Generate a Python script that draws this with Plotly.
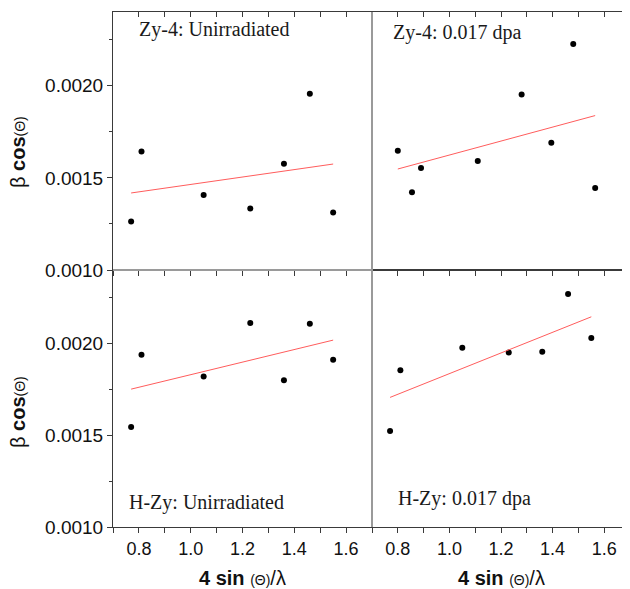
import plotly.graph_objects as go

# ---- data ----
x_std = [0.77, 0.81, 1.05, 1.23, 1.36, 1.46, 1.55]
x_zy4_irr = [0.80, 0.855, 0.89, 1.11, 1.28, 1.395, 1.48, 1.565]

zy4_unirr = [0.001263, 0.001643, 0.001407, 0.001334, 0.001577, 0.001957, 0.001312]
zy4_irr = [0.001647, 0.001422, 0.001553, 0.001591, 0.001953, 0.001690, 0.002227, 0.001445]
hzy_unirr = [0.001545, 0.001938, 0.001820, 0.002111, 0.001800, 0.002107, 0.001911]
hzy_irr = [0.001523, 0.001854, 0.001976, 0.001951, 0.001954, 0.002269, 0.002029]

fit_x_std = [0.77, 1.55]
fit_x_zy4_irr = [0.80, 1.565]
zy4_unirr_fit = [0.001418, 0.001575]
zy4_irr_fit = [0.001548, 0.001838]
hzy_unirr_fit = [0.001751, 0.002018]
hzy_irr_fit = [0.001706, 0.002145]

panel_labels = ["Zy-4: Unirradiated", "Zy-4: 0.017 dpa", "H-Zy: Unirradiated", "H-Zy: 0.017 dpa"]
x_tickvals = [0.8, 1.0, 1.2, 1.4, 1.6]
x_ticktext = ["0.8", "1.0", "1.2", "1.4", "1.6"]
y_tickvals = [0.0010, 0.0015, 0.0020]
y_ticktext = ["0.0010", "0.0015", "0.0020"]

# ---- layout geometry (page body has an 8px margin, so the figure is 8px smaller) ----
OFF = 8
W, H = 630 - OFF, 589 - OFF
ML, MR, MT, MB = 113 - OFF, 0, 12 - OFF, 589 - 527
PW, PH = W - ML - MR, H - MT - MB


def px(x):  # reference pixel -> paper
    return (x - OFF - ML) / PW


def py(y):
    return (H - MB - (y - OFF)) / PH


xsplit = px(372)
ysplit = py(270)
XR = [0.7, 1.7]
YR = [0.0010, 0.0024]
FRAME = "#3a3a3a"
DIV = "#9a9a9a"
XTICKFONT = dict(family="Liberation Sans, Arial, sans-serif", size=18, color="#111")
YTICKFONT = dict(family="Liberation Sans, Arial, sans-serif", size=19, color="#111")
LABFONT = dict(family="Liberation Serif, Times New Roman, serif", size=20, color="#1a1a1a")
RED = "#ff5c5c"

fig = go.Figure()

panels = [
    ("x", "y", x_std, zy4_unirr, fit_x_std, zy4_unirr_fit),
    ("x2", "y2", x_zy4_irr, zy4_irr, fit_x_zy4_irr, zy4_irr_fit),
    ("x3", "y3", x_std, hzy_unirr, fit_x_std, hzy_unirr_fit),
    ("x4", "y4", x_std, hzy_irr, fit_x_std, hzy_irr_fit),
]
for xa, ya, xs, ys, fx, fy in panels:
    fig.add_trace(go.Scatter(x=xs, y=ys, mode="markers", xaxis=xa, yaxis=ya,
                             marker=dict(color="black", size=6), showlegend=False))
    fig.add_trace(go.Scatter(x=fx, y=fy, mode="lines", xaxis=xa, yaxis=ya,
                             line=dict(color=RED, width=1), showlegend=False))

doms_x = {"x": [0, xsplit], "x2": [xsplit, 1], "x3": [0, xsplit], "x4": [xsplit, 1]}
doms_y = {"y": [ysplit, 1], "y2": [ysplit, 1], "y3": [0, ysplit], "y4": [0, ysplit]}

layout = dict(
    width=W, height=H,
    margin=dict(l=ML, r=MR, t=MT, b=MB, pad=0, autoexpand=False),
    plot_bgcolor="white", paper_bgcolor="white",
    showlegend=False,
)

for xa, ya in [("x", "y"), ("x2", "y2"), ("x3", "y3"), ("x4", "y4")]:
    xkey = "xaxis" + xa[1:]
    ykey = "yaxis" + ya[1:]
    bottom_row = xa in ("x3", "x4")
    left_col = xa in ("x", "x3")
    layout[xkey] = dict(
        domain=doms_x[xa], anchor=ya, range=XR, showgrid=False, zeroline=False,
        showline=True, linecolor=FRAME, linewidth=1,
        ticks="outside", ticklen=5, tickcolor=FRAME, tickwidth=1,
        tickvals=x_tickvals, ticktext=x_ticktext,
        showticklabels=bottom_row, tickfont=XTICKFONT, automargin=False,
        minor=dict(dtick=0.1, tick0=0.7, ticks="outside", ticklen=5, tickcolor=FRAME, showgrid=False),
    )
    layout[ykey] = dict(
        domain=doms_y[ya], anchor=xa, range=YR, showgrid=False, zeroline=False,
        showline=True, linecolor=FRAME, linewidth=1,
        ticks="outside" if left_col else "", ticklen=5, tickcolor=FRAME,
        tickvals=y_tickvals, ticktext=y_ticktext,
        showticklabels=left_col, tickfont=YTICKFONT, automargin=False,
        minor=dict(dtick=0.00025, tick0=0.001, ticks="outside" if left_col else "",
                   ticklen=3, tickcolor=FRAME, showgrid=False),
    )

# overlay axes: top-edge ticks (inside) for each panel, right-edge ticks for right panels
n = 5
for xa, ya in [("x", "y"), ("x2", "y2"), ("x3", "y3"), ("x4", "y4")]:
    layout["xaxis%d" % n] = dict(
        overlaying=xa, side="top", anchor=ya, range=XR, showgrid=False, zeroline=False,
        showline=True, linecolor=FRAME, linewidth=1,
        ticks="inside", ticklen=5, tickcolor=FRAME, dtick=0.1, tick0=0.7,
        showticklabels=False,
    )
    n += 1
for xa, ya in [("x2", "y2"), ("x4", "y4")]:
    layout["yaxis%d" % n] = dict(
        overlaying=ya, side="right", anchor=xa, range=YR, showgrid=False, zeroline=False,
        showline=False, ticks="inside", ticklen=5, tickcolor=FRAME,
        dtick=0.00025, tick0=0.001, showticklabels=False,
    )
    n += 1

fig.update_layout(**layout)
for k in range(5, 9):
    fig.add_trace(go.Scatter(x=[None], y=[None], xaxis="x%d" % k,
                             yaxis=["y", "y2", "y3", "y4"][k - 5], showlegend=False))
fig.add_trace(go.Scatter(x=[None], y=[None], xaxis="x2", yaxis="y9", showlegend=False))
fig.add_trace(go.Scatter(x=[None], y=[None], xaxis="x4", yaxis="y10", showlegend=False))

# divider lines
fig.add_shape(type="line", xref="paper", yref="paper", x0=xsplit, x1=xsplit, y0=0, y1=1,
              line=dict(color=DIV, width=2))
fig.add_shape(type="line", xref="paper", yref="paper", x0=0, x1=xsplit, y0=ysplit, y1=ysplit,
              line=dict(color=DIV, width=2))

# panel labels
label_pos = [(137, 29), (391, 33), (127, 502), (396, 498)]
for text, (lx, ly) in zip(panel_labels, label_pos):
    fig.add_annotation(x=px(lx), y=py(ly), xref="paper", yref="paper", text=text,
                       showarrow=False, xanchor="left", yanchor="middle", font=LABFONT)

# axis titles
ytitle = "β <b>cos</b><span style='font-size:14px'>(Θ)</span>"
xtitle = "<b>4 sin</b> <span style='font-size:14px'>(Θ)</span>/λ"
tfont = dict(family="Liberation Sans, Arial, sans-serif", size=20, color="#111")
for yc in (152, 412):
    fig.add_annotation(x=px(18), y=py(yc), xref="paper", yref="paper", text=ytitle,
                       textangle=-90, showarrow=False, xanchor="center", yanchor="middle", font=tfont)
for xc in (242, 501):
    fig.add_annotation(x=px(xc), y=py(578), xref="paper", yref="paper", text=xtitle,
                       showarrow=False, xanchor="center", yanchor="middle", font=tfont)

fig.write_html("out.html")
